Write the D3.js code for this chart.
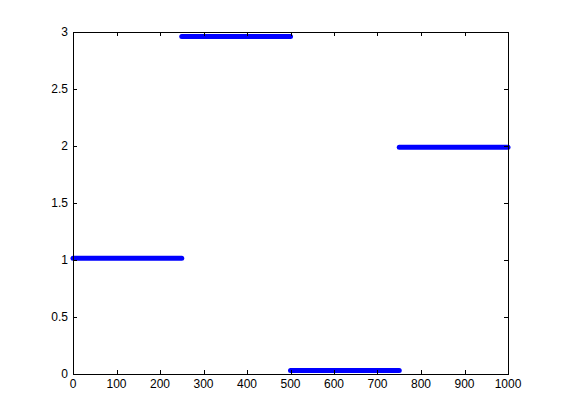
<!DOCTYPE html>
<html><head><meta charset="utf-8">
<script src="https://cdn.jsdelivr.net/npm/d3@7"></script>
<style>body{margin:0;background:#fff}svg{display:block}</style>
</head><body>
<script>
const segStart = [0, 250, 500, 750];
const segEnd = [250, 500, 750, 1000];
const segLevel = [1.015, 2.96, 0.03, 1.99];
const xTicks = [0,100,200,300,400,500,600,700,800,900,1000];
const yTicks = [0,0.5,1,1.5,2,2.5,3];

const W=561,H=420;
const m={l:73,r:53,t:32,b:46};
const svg=d3.select("body").append("svg").attr("width",W).attr("height",H);
const x=d3.scaleLinear().domain([0,1000]).range([m.l,W-m.r]);
const y=d3.scaleLinear().domain([0,3]).range([H-m.b,m.t]);
const font="Liberation Sans, Arial, Helvetica, sans-serif";

// data
const segs=segStart.map((s,i)=>({x0:s,x1:segEnd[i],v:segLevel[i]}));
const g=svg.append("g");
g.selectAll("line.seg").data(segs).join("line")
 .attr("x1",d=>x(d.x0)).attr("x2",d=>x(d.x1))
 .attr("y1",d=>y(d.v)).attr("y2",d=>y(d.v))
 .attr("stroke","#0000ff").attr("stroke-width",5).attr("stroke-linecap","round");

// box
svg.append("rect").attr("x",x(0)).attr("y",y(3)).attr("width",x(1000)-x(0)).attr("height",y(0)-y(3))
 .attr("fill","none").attr("stroke","#000").attr("stroke-width",1).attr("shape-rendering","crispEdges");

const ax=svg.append("g").attr("font-family",font).attr("font-size",12).attr("fill","#000");
const tl=4;
xTicks.forEach(t=>{
  const px=Math.round(x(t))+0.5;
  ax.append("line").attr("x1",px).attr("x2",px).attr("y1",y(0)).attr("y2",y(0)-tl).attr("stroke","#000");
  ax.append("line").attr("x1",px).attr("x2",px).attr("y1",y(3)).attr("y2",y(3)+tl).attr("stroke","#000");
  ax.append("text").attr("x",x(t)).attr("y",y(0)+14).attr("text-anchor","middle").text(t);
});
yTicks.forEach(t=>{
  const py=Math.round(y(t))+0.5;
  ax.append("line").attr("x1",x(0)).attr("x2",x(0)+tl).attr("y1",py).attr("y2",py).attr("stroke","#000");
  ax.append("line").attr("x1",x(1000)).attr("x2",x(1000)-tl).attr("y1",py).attr("y2",py).attr("stroke","#000");
  ax.append("text").attr("x",x(0)-5).attr("y",y(t)+4).attr("text-anchor","end").text(t);
});
</script>
</body></html>
